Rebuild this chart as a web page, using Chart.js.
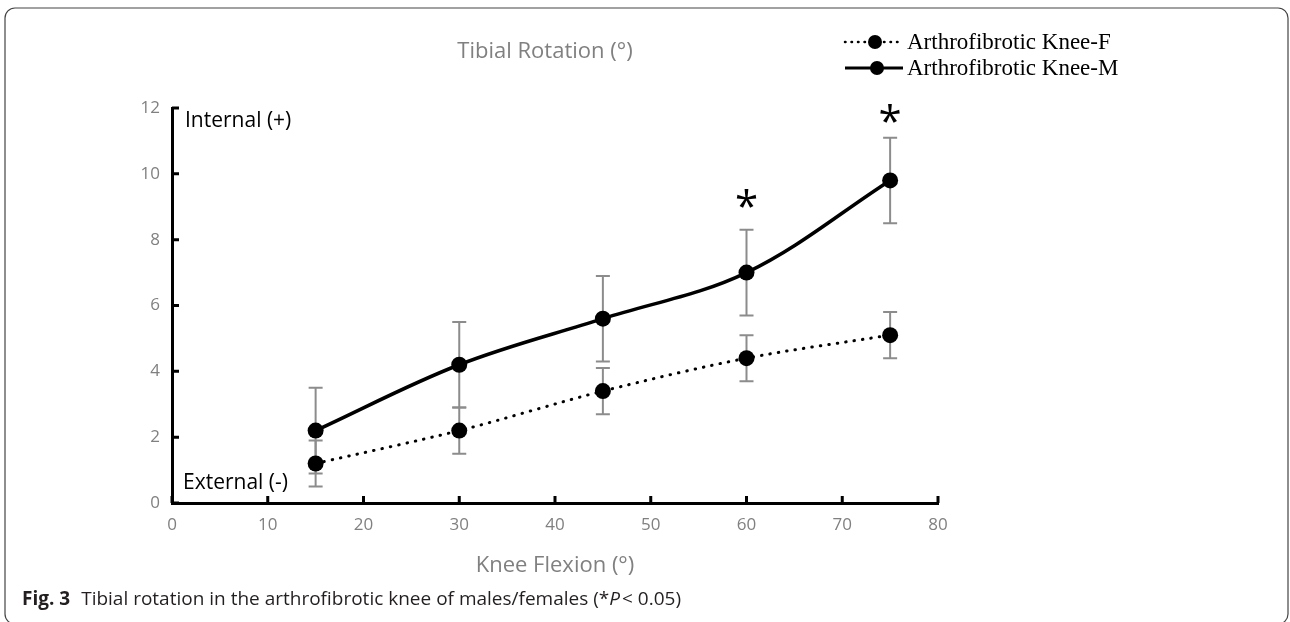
<!DOCTYPE html>
<html>
<head>
<meta charset="utf-8">
<script src="https://cdn.jsdelivr.net/npm/chart.js@4.4.1/dist/chart.umd.min.js"></script>
<style>
  body { margin: 0; background: #fff; }
</style>
</head>
<body>
<canvas id="chart" width="1290" height="622"></canvas>
<script>
// values
var flexion = [15, 30, 45, 60, 75];
var femaleMean = [1.2, 2.2, 3.4, 4.4, 5.1];
var femaleErr = [0.7, 0.7, 0.7, 0.7, 0.7];
var maleMean = [2.2, 4.2, 5.6, 7.0, 9.8];
var maleErr = [1.3, 1.3, 1.3, 1.3, 1.3];
var xTicks = [0, 10, 20, 30, 40, 50, 60, 70, 80];
var yTicks = [0, 2, 4, 6, 8, 10, 12];
// significance marks (*P < 0.05)
var starX = [60, 75];
var starY = [8.85, 11.45];

var GREY = '#808080';
var SANS = '"Open Sans", "DejaVu Sans", sans-serif';
var SERIF = '"Liberation Serif", "Times New Roman", serif';

function toPoints(xs, ys) {
    var pts = [];
    for (var i = 0; i < xs.length; i++) {
        pts.push({ x: xs[i], y: ys[i] });
    }
    return pts;
}

function drawErrorBars(ctx, xs, ys, errs, sx, sy) {
    ctx.save();
    ctx.strokeStyle = '#8c8c8c';
    ctx.lineWidth = 2;
    for (var i = 0; i < xs.length; i++) {
        var px = sx.getPixelForValue(xs[i]);
        var top = sy.getPixelForValue(ys[i] + errs[i]);
        var bot = sy.getPixelForValue(ys[i] - errs[i]);
        ctx.beginPath();
        ctx.moveTo(px, top); ctx.lineTo(px, bot);
        ctx.moveTo(px - 7, top); ctx.lineTo(px + 7, top);
        ctx.moveTo(px - 7, bot); ctx.lineTo(px + 7, bot);
        ctx.stroke();
    }
    ctx.restore();
}

function legendRow(ctx, y, dashed, dotX, label) {
    ctx.save();
    ctx.strokeStyle = '#000';
    ctx.lineWidth = 3;
    if (dashed) {
        ctx.setLineDash([0.5, 6]);
        ctx.lineCap = 'round';
        ctx.lineWidth = 2.5;
    }
    ctx.beginPath();
    ctx.moveTo(845, y); ctx.lineTo(903, y);
    ctx.stroke();
    ctx.setLineDash([]);
    ctx.fillStyle = '#000';
    ctx.beginPath();
    ctx.arc(dotX, y, 7, 0, Math.PI * 2);
    ctx.fill();
    ctx.font = '23px ' + SERIF;
    ctx.textBaseline = 'middle';
    ctx.fillText(label, 907, y + 1);
    ctx.restore();
}

var figurePlugin = {
    id: 'figure',
    beforeDatasetsDraw: function(chart) {
        var ctx = chart.ctx, sx = chart.scales.x, sy = chart.scales.y;
        drawErrorBars(ctx, flexion, maleMean, maleErr, sx, sy);
        drawErrorBars(ctx, flexion, femaleMean, femaleErr, sx, sy);
    },
    afterDraw: function(chart) {
        var ctx = chart.ctx, sx = chart.scales.x, sy = chart.scales.y;
        var area = chart.chartArea;

        // tick marks on the inner side of the axes
        ctx.save();
        ctx.strokeStyle = '#000';
        ctx.lineWidth = 3;
        ctx.beginPath();
        yTicks.forEach(function(v) {
            var py = sy.getPixelForValue(v);
            ctx.moveTo(area.left, py); ctx.lineTo(area.left + 7, py);
        });
        xTicks.forEach(function(v) {
            var px = sx.getPixelForValue(v);
            ctx.moveTo(px, area.bottom); ctx.lineTo(px, area.bottom - 7);
        });
        ctx.stroke();
        ctx.restore();

        // asterisks
        ctx.save();
        ctx.fillStyle = '#000';
        ctx.font = '42px ' + SANS;
        ctx.textAlign = 'center';
        ctx.textBaseline = 'alphabetic';
        for (var i = 0; i < starX.length; i++) {
            var m = ctx.measureText('*');
            var h = m.actualBoundingBoxAscent - m.actualBoundingBoxDescent;
            var cy = sy.getPixelForValue(starY[i]);
            ctx.fillText('*', sx.getPixelForValue(starX[i]), cy + m.actualBoundingBoxAscent - h / 2);
        }
        ctx.restore();

        ctx.save();
        // titles
        ctx.fillStyle = GREY;
        ctx.font = '22px ' + SANS;
        ctx.textAlign = 'center';
        ctx.textBaseline = 'middle';
        ctx.fillText('Tibial Rotation (°)', 545, 52);
        ctx.fillText('Knee Flexion (°)', (area.left + area.right) / 2, 566);

        // direction labels
        ctx.fillStyle = '#000';
        ctx.font = '21px ' + SANS;
        ctx.textAlign = 'left';
        ctx.fillText('Internal (+)', 185, 121);
        ctx.fillText('External (-)', 183, 483);
        ctx.restore();

        legendRow(ctx, 42, true, 875, 'Arthrofibrotic Knee-F');
        legendRow(ctx, 68, false, 877, 'Arthrofibrotic Knee-M');

        // caption
        ctx.save();
        ctx.fillStyle = '#231f20';
        ctx.textBaseline = 'middle';
        ctx.font = 'bold 19px ' + SANS;
        ctx.fillText('Fig. 3', 22, 600);
        var x = 22 + ctx.measureText('Fig. 3').width + 11;
        ctx.font = '19px ' + SANS;
        var part1 = 'Tibial rotation in the arthrofibrotic knee of males/females (*';
        ctx.fillText(part1, x, 600);
        x += ctx.measureText(part1).width;
        ctx.font = 'italic 19px ' + SANS;
        ctx.fillText('P', x, 600);
        x += ctx.measureText('P').width + 2;
        ctx.font = '19px ' + SANS;
        ctx.fillText('< 0.05)', x, 600);
        ctx.restore();

        // frame around the figure
        ctx.save();
        ctx.strokeStyle = '#444';
        ctx.lineWidth = 1.2;
        ctx.beginPath();
        ctx.roundRect(5, 8, 1283, 616, 10);
        ctx.stroke();
        ctx.restore();
    }
};

var ctx = document.getElementById('chart').getContext('2d');
var chart = new Chart(ctx, {
    type: 'line',
    data: {
        datasets: [{
            label: 'Arthrofibrotic Knee-F',
            data: toPoints(flexion, femaleMean),
            borderColor: '#000',
            backgroundColor: '#000',
            borderWidth: 3,
            borderDash: [0.5, 8],
            borderCapStyle: 'round',
            tension: 0.3,
            pointRadius: 8,
            pointHoverRadius: 8,
            pointBorderWidth: 0
        }, {
            label: 'Arthrofibrotic Knee-M',
            data: toPoints(flexion, maleMean),
            borderColor: '#000',
            backgroundColor: '#000',
            borderWidth: 3.5,
            tension: 0.35,
            pointRadius: 8,
            pointHoverRadius: 8,
            pointBorderWidth: 0
        }]
    },
    options: {
        responsive: false,
        animation: false,
        layout: { padding: { left: 0, top: 108, right: 352, bottom: 0 } },
        plugins: {
            legend: { display: false },
            title: { display: false },
            tooltip: { enabled: false }
        },
        scales: {
            x: {
                type: 'linear',
                min: 0,
                max: 80,
                afterFit: function(s) { s.height = 119; },
                ticks: { stepSize: 10, color: GREY, padding: 12, font: { family: SANS, size: 17 } },
                grid: { display: false, drawTicks: false },
                border: { color: '#000', width: 3 }
            },
            y: {
                min: 0,
                max: 12,
                afterFit: function(s) { s.width = 172; },
                ticks: { stepSize: 2, color: GREY, padding: 12, font: { family: SANS, size: 17 } },
                grid: { display: false, drawTicks: false },
                border: { color: '#000', width: 3 }
            }
        }
    },
    plugins: [figurePlugin]
});
</script>
</body>
</html>
